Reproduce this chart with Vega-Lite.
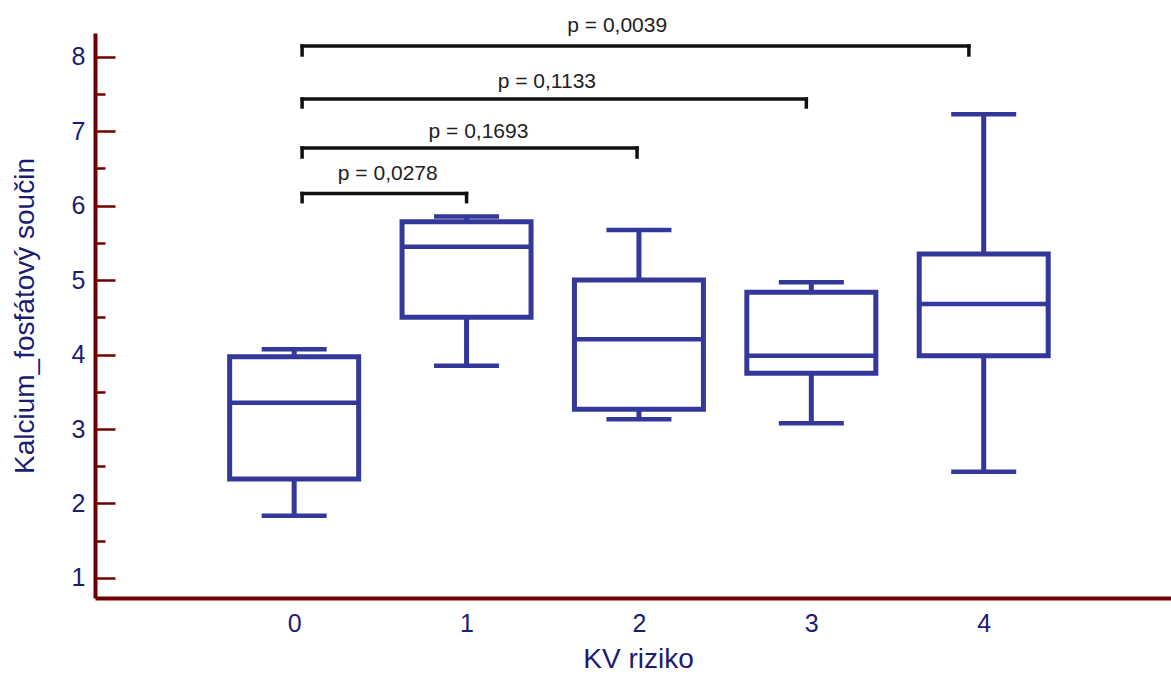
{
  "$schema": "https://vega.github.io/schema/vega-lite/v6.json",
  "width": 1076,
  "height": 565,
  "autosize": {"type": "none"},
  "padding": {"left": 95, "top": 33, "right": 0, "bottom": 79},
  "background": "white",
  "config": {"view": {"stroke": null}, "font": "Liberation Sans"},
  "datasets": {
    "boxes": [
      {"riziko": 0, "lo": 1.836, "q1": 2.329, "median": 3.354, "q3": 3.971, "hi": 4.071},
      {"riziko": 1, "lo": 3.851, "q1": 4.501, "median": 5.449, "q3": 5.785, "hi": 5.855},
      {"riziko": 2, "lo": 3.131, "q1": 3.265, "median": 4.205, "q3": 5.002, "hi": 5.674},
      {"riziko": 3, "lo": 3.077, "q1": 3.749, "median": 3.985, "q3": 4.837, "hi": 4.971},
      {"riziko": 4, "lo": 2.427, "q1": 3.985, "median": 4.68, "q3": 5.351, "hi": 7.228}
    ],
    "brackets": [
      {"from": 0.046, "to": 1.0, "y": 6.164, "tip": 6.054},
      {"from": 0.046, "to": 1.989, "y": 6.775, "tip": 6.654},
      {"from": 0.046, "to": 2.971, "y": 7.433, "tip": 7.326},
      {"from": 0.046, "to": 3.914, "y": 8.145, "tip": 8.025}
    ],
    "pvalues": [
      {"x": 0.543, "y": 6.345, "p": "p = 0,0278"},
      {"x": 1.069, "y": 6.905, "p": "p = 0,1693"},
      {"x": 1.466, "y": 7.577, "p": "p = 0,1133"},
      {"x": 1.874, "y": 8.337, "p": "p = 0,0039"}
    ]
  },
  "layer": [
    {
      "data": {"name": "boxes"},
      "mark": {"type": "rule", "stroke": "#34389a", "strokeWidth": 5},
      "encoding": {
        "x": {
          "field": "riziko", "type": "quantitative", "title": "KV riziko",
          "scale": {"domain": [-1.1264, 5.0575], "nice": false, "zero": false},
          "axis": {
            "values": [0, 1, 2, 3, 4],
            "format": "d",
            "grid": false,
            "ticks": false,
            "tickSize": 0,
            "domainColor": "#700000",
            "domainWidth": 4,
            "labelFont": "Liberation Sans",
            "labelFontSize": 25,
            "labelColor": "#1c1c73",
            "labelPadding": 13,
            "labelFlush": false,
            "labelOverlap": false,
            "titleFont": "Liberation Sans",
            "titleFontSize": 28,
            "titleFontWeight": "normal",
            "titleColor": "#1c1c73",
            "titleX": 543,
            "titleY": 69,
            "titleAlign": "center",
            "titleBaseline": "alphabetic"
          }
        },
        "y": {
          "field": "lo", "type": "quantitative", "title": "Kalcium_fosfátový součin",
          "scale": {"domain": [0.73, 8.32], "nice": false, "zero": false},
          "axis": {
            "values": [1, 1.5, 2, 2.5, 3, 3.5, 4, 4.5, 5, 5.5, 6, 6.5, 7, 7.5, 8],
            "labelExpr": "datum.value % 1 === 0 ? format(datum.value, 'd') : ''",
            "grid": false,
            "domainColor": "#700000",
            "domainWidth": 4,
            "tickColor": "#700000",
            "tickWidth": 2.5,
            "tickSize": {"condition": {"test": "datum.value % 1 === 0", "value": -20}, "value": -10},
            "labelPadding": 30,
            "labelFont": "Liberation Sans",
            "labelFontSize": 25,
            "labelColor": "#1c1c73",
            "labelOverlap": false,
            "labelFlush": false,
            "labelBound": false,
            "titleFont": "Liberation Sans",
            "titleFontSize": 28,
            "titleFontWeight": "normal",
            "titleColor": "#1c1c73",
            "titleAngle": -90,
            "titleX": -70,
            "titleY": 282.5,
            "titleAlign": "center",
            "titleBaseline": "middle"
          }
        },
        "y2": {"field": "hi"}
      }
    },
    {
      "data": {"name": "boxes"},
      "mark": {"type": "bar", "width": 129, "fill": "white", "stroke": "#34389a", "strokeWidth": 5},
      "encoding": {
        "x": {"field": "riziko", "type": "quantitative", "title": "KV riziko", "scale": {"domain": [-1.1264, 5.0575], "nice": false, "zero": false}},
        "y": {"field": "q1", "type": "quantitative", "title": "Kalcium_fosfátový součin", "scale": {"domain": [0.73, 8.32], "nice": false, "zero": false}},
        "y2": {"field": "q3"}
      }
    },
    {
      "data": {"name": "boxes"},
      "mark": {"type": "tick", "orient": "horizontal", "size": 129, "thickness": 4.5, "color": "#34389a", "opacity": 1},
      "encoding": {
        "x": {"field": "riziko", "type": "quantitative", "title": "KV riziko", "scale": {"domain": [-1.1264, 5.0575], "nice": false, "zero": false}},
        "y": {"field": "median", "type": "quantitative", "title": "Kalcium_fosfátový součin", "scale": {"domain": [0.73, 8.32], "nice": false, "zero": false}}
      }
    },
    {
      "data": {"name": "boxes"},
      "mark": {"type": "tick", "orient": "horizontal", "size": 65, "thickness": 4.5, "color": "#34389a", "opacity": 1},
      "encoding": {
        "x": {"field": "riziko", "type": "quantitative", "title": "KV riziko", "scale": {"domain": [-1.1264, 5.0575], "nice": false, "zero": false}},
        "y": {"field": "lo", "type": "quantitative", "title": "Kalcium_fosfátový součin", "scale": {"domain": [0.73, 8.32], "nice": false, "zero": false}}
      }
    },
    {
      "data": {"name": "boxes"},
      "mark": {"type": "tick", "orient": "horizontal", "size": 65, "thickness": 4.5, "color": "#34389a", "opacity": 1},
      "encoding": {
        "x": {"field": "riziko", "type": "quantitative", "title": "KV riziko", "scale": {"domain": [-1.1264, 5.0575], "nice": false, "zero": false}},
        "y": {"field": "hi", "type": "quantitative", "title": "Kalcium_fosfátový součin", "scale": {"domain": [0.73, 8.32], "nice": false, "zero": false}}
      }
    },
    {
      "data": {"name": "brackets"},
      "mark": {"type": "rule", "stroke": "#111111", "strokeWidth": 3.5, "strokeCap": "square"},
      "encoding": {
        "x": {"field": "from", "type": "quantitative", "title": "KV riziko", "scale": {"domain": [-1.1264, 5.0575], "nice": false, "zero": false}},
        "x2": {"field": "to"},
        "y": {"field": "y", "type": "quantitative", "title": "Kalcium_fosfátový součin", "scale": {"domain": [0.73, 8.32], "nice": false, "zero": false}}
      }
    },
    {
      "data": {"name": "brackets"},
      "mark": {"type": "rule", "stroke": "#111111", "strokeWidth": 3.5, "strokeCap": "square"},
      "encoding": {
        "x": {"field": "from", "type": "quantitative", "title": "KV riziko", "scale": {"domain": [-1.1264, 5.0575], "nice": false, "zero": false}},
        "y": {"field": "tip", "type": "quantitative", "title": "Kalcium_fosfátový součin", "scale": {"domain": [0.73, 8.32], "nice": false, "zero": false}},
        "y2": {"field": "y"}
      }
    },
    {
      "data": {"name": "brackets"},
      "mark": {"type": "rule", "stroke": "#111111", "strokeWidth": 3.5, "strokeCap": "square"},
      "encoding": {
        "x": {"field": "to", "type": "quantitative", "title": "KV riziko", "scale": {"domain": [-1.1264, 5.0575], "nice": false, "zero": false}},
        "y": {"field": "tip", "type": "quantitative", "title": "Kalcium_fosfátový součin", "scale": {"domain": [0.73, 8.32], "nice": false, "zero": false}},
        "y2": {"field": "y"}
      }
    },
    {
      "data": {"name": "pvalues"},
      "mark": {"type": "text", "font": "Liberation Sans", "fontSize": 21, "color": "#222222", "align": "center", "baseline": "alphabetic"},
      "encoding": {
        "x": {"field": "x", "type": "quantitative", "title": "KV riziko", "scale": {"domain": [-1.1264, 5.0575], "nice": false, "zero": false}},
        "y": {"field": "y", "type": "quantitative", "title": "Kalcium_fosfátový součin", "scale": {"domain": [0.73, 8.32], "nice": false, "zero": false}},
        "text": {"field": "p"}
      }
    }
  ]
}
